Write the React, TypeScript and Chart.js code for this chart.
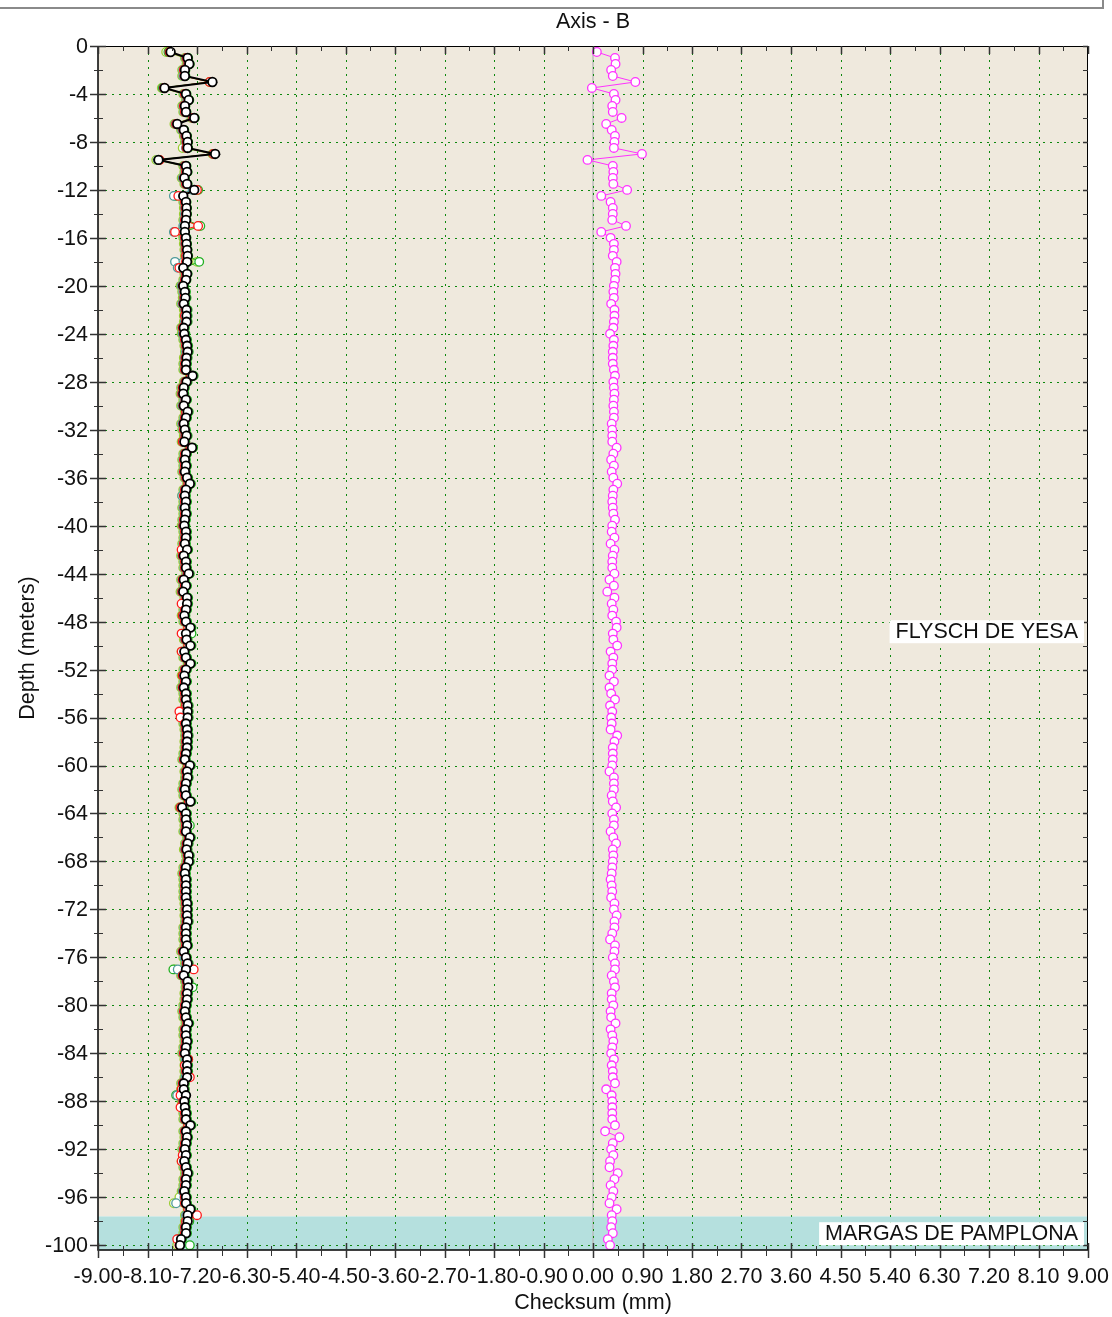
import React, { useEffect, useRef } from "react";
import { Chart, registerables } from "chart.js";

Chart.register(...registerables);

// ---------- DATA ----------
const depths = [
  -0.5, -1, -1.5, -2, -2.5, -3, -3.5, -4, -4.5, -5,
  -5.5, -6, -6.5, -7, -7.5, -8, -8.5, -9, -9.5, -10,
  -10.5, -11, -11.5, -12, -12.5, -13, -13.5, -14, -14.5, -15,
  -15.5, -16, -16.5, -17, -17.5, -18, -18.5, -19, -19.5, -20,
  -20.5, -21, -21.5, -22, -22.5, -23, -23.5, -24, -24.5, -25,
  -25.5, -26, -26.5, -27, -27.5, -28, -28.5, -29, -29.5, -30,
  -30.5, -31, -31.5, -32, -32.5, -33, -33.5, -34, -34.5, -35,
  -35.5, -36, -36.5, -37, -37.5, -38, -38.5, -39, -39.5, -40,
  -40.5, -41, -41.5, -42, -42.5, -43, -43.5, -44, -44.5, -45,
  -45.5, -46, -46.5, -47, -47.5, -48, -48.5, -49, -49.5, -50,
  -50.5, -51, -51.5, -52, -52.5, -53, -53.5, -54, -54.5, -55,
  -55.5, -56, -56.5, -57, -57.5, -58, -58.5, -59, -59.5, -60,
  -60.5, -61, -61.5, -62, -62.5, -63, -63.5, -64, -64.5, -65,
  -65.5, -66, -66.5, -67, -67.5, -68, -68.5, -69, -69.5, -70,
  -70.5, -71, -71.5, -72, -72.5, -73, -73.5, -74, -74.5, -75,
  -75.5, -76, -76.5, -77, -77.5, -78, -78.5, -79, -79.5, -80,
  -80.5, -81, -81.5, -82, -82.5, -83, -83.5, -84, -84.5, -85,
  -85.5, -86, -86.5, -87, -87.5, -88, -88.5, -89, -89.5, -90,
  -90.5, -91, -91.5, -92, -92.5, -93, -93.5, -94, -94.5, -95,
  -95.5, -96, -96.5, -97, -97.5, -98, -98.5, -99, -99.5, -100,
];

const seriesYellowGreen = [
  -7.76, -7.42, -7.39, -7.47, -7.47, -6.97, -7.84, -7.45, -7.40, -7.47,
  -7.45, -7.30, -7.61, -7.49, -7.44, -7.42, -7.46, -6.92, -7.94, -7.45,
  -7.43, -7.48, -7.43, -7.22, -7.58, -7.45, -7.44, -7.44, -7.45, -7.16,
  -7.50, -7.45, -7.44, -7.43, -7.42, -7.20, -7.50, -7.43, -7.45, -7.50,
  -7.47, -7.46, -7.49, -7.44, -7.44, -7.44, -7.49, -7.48, -7.45, -7.43,
  -7.42, -7.44, -7.45, -7.45, -7.33, -7.44, -7.49, -7.50, -7.45, -7.49,
  -7.42, -7.45, -7.49, -7.47, -7.44, -7.48, -7.34, -7.45, -7.47, -7.45,
  -7.47, -7.43, -7.38, -7.45, -7.47, -7.45, -7.47, -7.45, -7.47, -7.48,
  -7.45, -7.45, -7.47, -7.43, -7.49, -7.45, -7.45, -7.40, -7.49, -7.45,
  -7.50, -7.43, -7.43, -7.45, -7.48, -7.45, -7.37, -7.45, -7.44, -7.37,
  -7.48, -7.45, -7.37, -7.45, -7.48, -7.45, -7.49, -7.45, -7.45, -7.42,
  -7.42, -7.42, -7.45, -7.43, -7.42, -7.43, -7.43, -7.45, -7.47, -7.38,
  -7.43, -7.42, -7.45, -7.47, -7.45, -7.37, -7.52, -7.45, -7.45, -7.43,
  -7.45, -7.38, -7.42, -7.44, -7.40, -7.40, -7.45, -7.47, -7.45, -7.45,
  -7.45, -7.45, -7.43, -7.43, -7.43, -7.42, -7.45, -7.45, -7.45, -7.43,
  -7.49, -7.45, -7.42, -7.60, -7.49, -7.42, -7.41, -7.43, -7.43, -7.45,
  -7.47, -7.45, -7.41, -7.45, -7.45, -7.43, -7.45, -7.47, -7.43, -7.43,
  -7.43, -7.43, -7.49, -7.49, -7.45, -7.48, -7.47, -7.45, -7.45, -7.37,
  -7.45, -7.43, -7.45, -7.47, -7.45, -7.48, -7.45, -7.42, -7.45, -7.45,
  -7.48, -7.52, -7.62, -7.37, -7.42, -7.42, -7.45, -7.45, -7.54, -7.56,
];

const seriesGreen = [
  -7.72, -7.36, -7.33, -7.41, -7.41, -6.95, -7.82, -7.39, -7.34, -7.41,
  -7.39, -7.24, -7.57, -7.43, -7.38, -7.36, -7.36, -6.89, -7.89, -7.39,
  -7.37, -7.42, -7.37, -7.18, -7.60, -7.39, -7.38, -7.38, -7.39, -7.14,
  -7.43, -7.39, -7.38, -7.37, -7.36, -7.16, -7.44, -7.37, -7.39, -7.43,
  -7.40, -7.39, -7.42, -7.37, -7.37, -7.37, -7.42, -7.41, -7.38, -7.36,
  -7.35, -7.37, -7.38, -7.38, -7.26, -7.37, -7.42, -7.43, -7.38, -7.42,
  -7.35, -7.38, -7.42, -7.40, -7.37, -7.41, -7.27, -7.38, -7.40, -7.38,
  -7.40, -7.36, -7.31, -7.38, -7.40, -7.38, -7.40, -7.38, -7.40, -7.41,
  -7.38, -7.38, -7.40, -7.36, -7.42, -7.38, -7.38, -7.33, -7.42, -7.38,
  -7.43, -7.36, -7.36, -7.38, -7.41, -7.38, -7.30, -7.30, -7.37, -7.30,
  -7.41, -7.38, -7.30, -7.38, -7.41, -7.38, -7.42, -7.38, -7.38, -7.35,
  -7.35, -7.35, -7.38, -7.36, -7.35, -7.36, -7.36, -7.38, -7.40, -7.31,
  -7.36, -7.35, -7.38, -7.40, -7.38, -7.30, -7.44, -7.38, -7.38, -7.33,
  -7.38, -7.31, -7.35, -7.37, -7.33, -7.33, -7.38, -7.40, -7.38, -7.38,
  -7.38, -7.38, -7.36, -7.36, -7.36, -7.35, -7.38, -7.38, -7.38, -7.36,
  -7.42, -7.38, -7.35, -7.63, -7.42, -7.35, -7.28, -7.36, -7.36, -7.38,
  -7.40, -7.38, -7.34, -7.38, -7.38, -7.36, -7.38, -7.40, -7.36, -7.36,
  -7.36, -7.36, -7.42, -7.42, -7.58, -7.41, -7.40, -7.38, -7.38, -7.30,
  -7.38, -7.36, -7.38, -7.40, -7.38, -7.41, -7.38, -7.35, -7.38, -7.38,
  -7.41, -7.38, -7.38, -7.30, -7.35, -7.34, -7.38, -7.38, -7.47, -7.33,
];

const seriesTeal = [
  -7.70, -7.40, -7.37, -7.45, -7.45, -6.94, -7.81, -7.43, -7.38, -7.45,
  -7.43, -7.28, -7.59, -7.47, -7.42, -7.40, -7.40, -6.90, -7.91, -7.43,
  -7.41, -7.46, -7.41, -7.28, -7.62, -7.43, -7.42, -7.42, -7.43, -7.45,
  -7.62, -7.43, -7.42, -7.41, -7.40, -7.60, -7.55, -7.41, -7.43, -7.48,
  -7.45, -7.44, -7.47, -7.42, -7.42, -7.42, -7.47, -7.46, -7.43, -7.41,
  -7.40, -7.42, -7.43, -7.43, -7.31, -7.42, -7.47, -7.48, -7.43, -7.47,
  -7.40, -7.43, -7.47, -7.45, -7.42, -7.46, -7.32, -7.43, -7.45, -7.43,
  -7.45, -7.41, -7.36, -7.43, -7.47, -7.43, -7.45, -7.43, -7.45, -7.46,
  -7.43, -7.43, -7.45, -7.41, -7.47, -7.43, -7.43, -7.38, -7.47, -7.43,
  -7.48, -7.41, -7.41, -7.43, -7.46, -7.43, -7.35, -7.43, -7.42, -7.35,
  -7.46, -7.43, -7.35, -7.43, -7.46, -7.43, -7.47, -7.43, -7.43, -7.40,
  -7.40, -7.40, -7.43, -7.41, -7.40, -7.41, -7.41, -7.43, -7.45, -7.36,
  -7.41, -7.40, -7.43, -7.45, -7.43, -7.35, -7.50, -7.43, -7.43, -7.41,
  -7.43, -7.36, -7.40, -7.42, -7.38, -7.38, -7.43, -7.45, -7.43, -7.43,
  -7.43, -7.43, -7.41, -7.41, -7.41, -7.40, -7.43, -7.43, -7.43, -7.41,
  -7.47, -7.43, -7.40, -7.55, -7.47, -7.40, -7.39, -7.41, -7.41, -7.43,
  -7.45, -7.43, -7.39, -7.43, -7.43, -7.41, -7.43, -7.45, -7.41, -7.41,
  -7.41, -7.41, -7.47, -7.47, -7.56, -7.46, -7.45, -7.43, -7.43, -7.35,
  -7.43, -7.41, -7.43, -7.45, -7.43, -7.46, -7.43, -7.40, -7.43, -7.43,
  -7.46, -7.43, -7.58, -7.35, -7.40, -7.40, -7.43, -7.43, -7.52, -7.50,
];

const seriesRed = [
  -7.70, -7.39, -7.36, -7.44, -7.43, -6.97, -7.80, -7.42, -7.36, -7.44,
  -7.42, -7.27, -7.58, -7.45, -7.41, -7.39, -7.39, -6.90, -7.88, -7.42,
  -7.40, -7.44, -7.40, -7.20, -7.54, -7.42, -7.41, -7.40, -7.42, -7.18,
  -7.60, -7.42, -7.41, -7.40, -7.40, -7.40, -7.52, -7.40, -7.42, -7.46,
  -7.43, -7.43, -7.45, -7.41, -7.42, -7.40, -7.46, -7.44, -7.42, -7.40,
  -7.38, -7.41, -7.42, -7.42, -7.31, -7.41, -7.46, -7.47, -7.41, -7.45,
  -7.40, -7.42, -7.45, -7.44, -7.41, -7.46, -7.32, -7.42, -7.44, -7.42,
  -7.44, -7.40, -7.36, -7.42, -7.44, -7.42, -7.43, -7.42, -7.44, -7.45,
  -7.42, -7.42, -7.44, -7.48, -7.46, -7.42, -7.42, -7.37, -7.46, -7.42,
  -7.47, -7.40, -7.48, -7.42, -7.46, -7.42, -7.36, -7.48, -7.41, -7.36,
  -7.48, -7.42, -7.34, -7.42, -7.46, -7.42, -7.46, -7.42, -7.42, -7.40,
  -7.52, -7.50, -7.42, -7.40, -7.39, -7.40, -7.40, -7.42, -7.44, -7.36,
  -7.40, -7.39, -7.42, -7.44, -7.42, -7.35, -7.50, -7.42, -7.42, -7.40,
  -7.42, -7.35, -7.39, -7.41, -7.37, -7.37, -7.42, -7.44, -7.42, -7.42,
  -7.42, -7.42, -7.40, -7.40, -7.40, -7.39, -7.42, -7.42, -7.42, -7.40,
  -7.46, -7.40, -7.39, -7.26, -7.46, -7.39, -7.38, -7.40, -7.40, -7.42,
  -7.44, -7.42, -7.38, -7.42, -7.42, -7.40, -7.42, -7.44, -7.36, -7.42,
  -7.40, -7.33, -7.46, -7.48, -7.50, -7.45, -7.50, -7.42, -7.42, -7.36,
  -7.42, -7.40, -7.42, -7.44, -7.46, -7.48, -7.42, -7.39, -7.42, -7.42,
  -7.44, -7.42, -7.42, -7.36, -7.20, -7.40, -7.42, -7.42, -7.56, -7.52,
];

const seriesBlack = [
  -7.68, -7.37, -7.34, -7.42, -7.42, -6.92, -7.79, -7.40, -7.35, -7.42,
  -7.40, -7.25, -7.56, -7.44, -7.39, -7.37, -7.37, -6.87, -7.90, -7.40,
  -7.38, -7.43, -7.38, -7.25, -7.45, -7.40, -7.39, -7.39, -7.40, -7.42,
  -7.42, -7.40, -7.39, -7.38, -7.37, -7.38, -7.45, -7.38, -7.40, -7.45,
  -7.42, -7.41, -7.44, -7.39, -7.39, -7.39, -7.44, -7.43, -7.40, -7.38,
  -7.37, -7.39, -7.40, -7.40, -7.28, -7.39, -7.44, -7.45, -7.40, -7.44,
  -7.37, -7.40, -7.44, -7.42, -7.39, -7.43, -7.29, -7.40, -7.42, -7.40,
  -7.42, -7.38, -7.33, -7.40, -7.42, -7.40, -7.42, -7.40, -7.42, -7.43,
  -7.40, -7.40, -7.42, -7.38, -7.44, -7.40, -7.40, -7.35, -7.44, -7.40,
  -7.45, -7.38, -7.38, -7.40, -7.43, -7.40, -7.32, -7.40, -7.39, -7.32,
  -7.43, -7.40, -7.32, -7.40, -7.43, -7.40, -7.44, -7.40, -7.40, -7.37,
  -7.37, -7.37, -7.40, -7.38, -7.37, -7.38, -7.38, -7.40, -7.42, -7.33,
  -7.38, -7.37, -7.40, -7.42, -7.40, -7.32, -7.47, -7.40, -7.40, -7.38,
  -7.40, -7.33, -7.37, -7.39, -7.35, -7.35, -7.40, -7.42, -7.40, -7.40,
  -7.40, -7.40, -7.38, -7.38, -7.38, -7.37, -7.40, -7.40, -7.40, -7.38,
  -7.44, -7.40, -7.37, -7.40, -7.44, -7.37, -7.36, -7.38, -7.38, -7.40,
  -7.42, -7.40, -7.36, -7.40, -7.40, -7.38, -7.40, -7.42, -7.38, -7.38,
  -7.38, -7.38, -7.44, -7.44, -7.40, -7.43, -7.42, -7.40, -7.40, -7.32,
  -7.40, -7.38, -7.40, -7.42, -7.40, -7.43, -7.40, -7.37, -7.40, -7.40,
  -7.43, -7.40, -7.40, -7.32, -7.37, -7.37, -7.40, -7.40, -7.49, -7.51,
];

const seriesChecksum = [
  0.07, 0.40, 0.41, 0.33, 0.36, 0.77, -0.02, 0.38, 0.41, 0.35,
  0.36, 0.52, 0.24, 0.34, 0.40, 0.39, 0.38, 0.89, -0.10, 0.36,
  0.37, 0.36, 0.37, 0.62, 0.15, 0.32, 0.36, 0.36, 0.35, 0.60,
  0.15, 0.32, 0.38, 0.38, 0.36, 0.43, 0.40, 0.41, 0.40, 0.38,
  0.37, 0.38, 0.33, 0.39, 0.39, 0.38, 0.37, 0.31, 0.38, 0.37,
  0.36, 0.36, 0.36, 0.38, 0.40, 0.37, 0.38, 0.39, 0.38, 0.37,
  0.38, 0.38, 0.34, 0.35, 0.35, 0.35, 0.43, 0.37, 0.33, 0.38,
  0.34, 0.37, 0.44, 0.37, 0.36, 0.35, 0.36, 0.37, 0.40, 0.35,
  0.34, 0.39, 0.32, 0.39, 0.36, 0.35, 0.35, 0.39, 0.30, 0.38,
  0.26, 0.39, 0.34, 0.37, 0.35, 0.42, 0.43, 0.36, 0.37, 0.44,
  0.32, 0.37, 0.35, 0.35, 0.30, 0.38, 0.30, 0.33, 0.40, 0.31,
  0.35, 0.33, 0.34, 0.32, 0.44, 0.39, 0.36, 0.36, 0.36, 0.35,
  0.30, 0.38, 0.38, 0.38, 0.34, 0.36, 0.42, 0.35, 0.38, 0.38,
  0.32, 0.37, 0.42, 0.36, 0.37, 0.36, 0.35, 0.34, 0.32, 0.34,
  0.35, 0.33, 0.39, 0.38, 0.43, 0.39, 0.39, 0.35, 0.31, 0.40,
  0.39, 0.36, 0.40, 0.40, 0.34, 0.38, 0.40, 0.34, 0.34, 0.37,
  0.32, 0.33, 0.41, 0.32, 0.35, 0.37, 0.35, 0.33, 0.38, 0.34,
  0.36, 0.36, 0.40, 0.24, 0.34, 0.35, 0.35, 0.35, 0.35, 0.40,
  0.22, 0.48, 0.36, 0.33, 0.37, 0.31, 0.30, 0.45, 0.39, 0.32,
  0.37, 0.34, 0.30, 0.43, 0.34, 0.35, 0.33, 0.36, 0.27, 0.31,
];

const xTickLabels = [
  "-9.00", "-8.10", "-7.20", "-6.30", "-5.40", "-4.50", "-3.60", "-2.70", "-1.80", "-0.90",
  "0.00", "0.90", "1.80", "2.70", "3.60", "4.50", "5.40", "6.30", "7.20", "8.10", "9.00",
];
const yTickValues = [0, -4, -8, -12, -16, -20, -24, -28, -32, -36, -40, -44, -48, -52, -56, -60, -64, -68, -72, -76, -80, -84, -88, -92, -96, -100];

const layerNames = ["FLYSCH DE YESA", "MARGAS DE PAMPLONA"];
const layerTops = [0, -97.6];
const layerBottoms = [-97.6, -100.4];
const layerColors = ["#efe9dd", "#b5e0de"];

const X_MIN = -9;
const X_MAX = 9;
const Y_MIN = -100.4;
const Y_MAX = 0;

const FONT = "'Liberation Sans', Arial, Helvetica, sans-serif";
const FONT_SIZE = 21.5;

function toPoints(values: number[]) {
  return values.map((v, i) => ({ x: v, y: depths[i] }));
}

const customDraw = {
  id: "customDraw",
  beforeDraw(chart: any) {
    const { ctx, chartArea, scales } = chart;
    const { left, right, top, bottom } = chartArea;
    const x = scales.x;
    const y = scales.y;
    ctx.save();
    ctx.fillStyle = "#ffffff";
    ctx.fillRect(0, 0, chart.width, chart.height);

    // frame line at the top of the page
    ctx.strokeStyle = "#8a8a8a";
    ctx.lineWidth = 2;
    ctx.beginPath();
    ctx.moveTo(0, 8);
    ctx.lineTo(1103, 8);
    ctx.lineTo(1103, 0);
    ctx.stroke();

    // layer bands
    for (let i = 0; i < layerNames.length; i++) {
      const y1 = y.getPixelForValue(layerTops[i]);
      const y2 = y.getPixelForValue(layerBottoms[i]);
      ctx.fillStyle = layerColors[i];
      ctx.fillRect(left, y1, right - left, y2 - y1);
    }

    // zero line
    const x0 = Math.round(x.getPixelForValue(0));
    ctx.strokeStyle = "rgba(185,185,185,0.7)";
    ctx.lineWidth = 2;
    ctx.beginPath();
    ctx.moveTo(x0, top);
    ctx.lineTo(x0, bottom);
    ctx.stroke();

    // grid lines
    ctx.strokeStyle = "#0c870c";
    ctx.lineWidth = 1;
    ctx.setLineDash([2, 5]);
    for (let i = 1; i < xTickLabels.length - 1; i++) {
      const px = Math.round(x.getPixelForValue(parseFloat(xTickLabels[i]))) + 0.5;
      ctx.beginPath();
      ctx.moveTo(px, top);
      ctx.lineTo(px, bottom);
      ctx.stroke();
    }
    for (let i = 1; i < yTickValues.length; i++) {
      const py = Math.round(y.getPixelForValue(yTickValues[i])) + 0.5;
      ctx.beginPath();
      ctx.moveTo(left, py);
      ctx.lineTo(right, py);
      ctx.stroke();
    }
    ctx.setLineDash([]);
    ctx.restore();
  },
  afterDraw(chart: any) {
    const { ctx, chartArea, scales } = chart;
    const { left, right, top, bottom } = chartArea;
    const x = scales.x;
    const y = scales.y;
    ctx.save();

    // axis borders
    ctx.strokeStyle = "#000";
    ctx.lineWidth = 1.5;
    ctx.beginPath();
    ctx.moveTo(left, top);
    ctx.lineTo(left, bottom);
    ctx.lineTo(right, bottom);
    ctx.stroke();
    ctx.lineWidth = 1;
    ctx.beginPath();
    ctx.moveTo(left, top + 0.5);
    ctx.lineTo(right, top + 0.5);
    ctx.moveTo(right - 0.5, top);
    ctx.lineTo(right - 0.5, bottom);
    ctx.stroke();

    // x ticks (major + minor), bottom crossing, top inward
    const xMajor = xTickLabels.map((t) => parseFloat(t));
    ctx.strokeStyle = "#333";
    for (let i = 0; i < xMajor.length; i++) {
      const px = Math.round(x.getPixelForValue(xMajor[i])) + 0.5;
      ctx.lineWidth = 1.5;
      ctx.beginPath();
      ctx.moveTo(px, bottom - 7);
      ctx.lineTo(px, bottom + 8);
      ctx.moveTo(px, top);
      ctx.lineTo(px, top + 8);
      ctx.stroke();
      if (i < xMajor.length - 1) {
        const pm = Math.round(x.getPixelForValue((xMajor[i] + xMajor[i + 1]) / 2)) + 0.5;
        ctx.lineWidth = 1;
        ctx.beginPath();
        ctx.moveTo(pm, bottom - 4);
        ctx.lineTo(pm, bottom + 6);
        ctx.moveTo(pm, top);
        ctx.lineTo(pm, top + 5);
        ctx.stroke();
      }
    }
    // y ticks: left crossing, right inward
    for (let i = 0; i < yTickValues.length; i++) {
      const py = Math.round(y.getPixelForValue(yTickValues[i])) + 0.5;
      ctx.lineWidth = 1.5;
      ctx.beginPath();
      ctx.moveTo(left - 8, py);
      ctx.lineTo(left + 8, py);
      ctx.moveTo(right - 5, py);
      ctx.lineTo(right, py);
      ctx.stroke();
      if (i < yTickValues.length - 1) {
        const pm = Math.round(y.getPixelForValue((yTickValues[i] + yTickValues[i + 1]) / 2)) + 0.5;
        ctx.lineWidth = 1;
        ctx.beginPath();
        ctx.moveTo(left - 4, pm);
        ctx.lineTo(left + 5, pm);
        ctx.moveTo(right - 5, pm);
        ctx.lineTo(right, pm);
        ctx.stroke();
      }
    }

    // tick labels
    ctx.fillStyle = "#111";
    ctx.font = `${FONT_SIZE}px ${FONT}`;
    ctx.textAlign = "center";
    ctx.textBaseline = "alphabetic";
    for (let i = 0; i < xTickLabels.length; i++) {
      const px = x.getPixelForValue(parseFloat(xTickLabels[i]));
      ctx.fillText(xTickLabels[i], px, 1283);
    }
    ctx.textAlign = "right";
    ctx.textBaseline = "middle";
    for (let i = 0; i < yTickValues.length; i++) {
      const py = y.getPixelForValue(yTickValues[i]);
      ctx.fillText(String(yTickValues[i]), left - 10, py + 1);
    }

    // axis titles
    ctx.textAlign = "center";
    ctx.textBaseline = "alphabetic";
    ctx.fillText("Checksum (mm)", (left + right) / 2, 1309);
    ctx.save();
    ctx.translate(34, (top + bottom) / 2);
    ctx.rotate(-Math.PI / 2);
    ctx.fillText("Depth (meters)", 0, 0);
    ctx.restore();

    // title with white box
    const title = "Axis - B";
    const tw = ctx.measureText(title).width;
    const cx = (left + right) / 2;
    ctx.fillStyle = "#fff";
    ctx.fillRect(cx - tw / 2 - 2, 9, tw + 4, 25);
    ctx.fillStyle = "#111";
    ctx.fillText(title, cx, 28);

    // layer labels
    ctx.textAlign = "right";
    ctx.textBaseline = "middle";
    for (let i = 0; i < layerNames.length; i++) {
      const mid = (layerTops[i] + layerBottoms[i]) / 2;
      const py = y.getPixelForValue(mid);
      const w = ctx.measureText(layerNames[i]).width;
      const rx = right - 4;
      ctx.fillStyle = "#fff";
      ctx.fillRect(rx - w - 12, py - 11, w + 12, 23);
      ctx.fillStyle = "#111";
      ctx.fillText(layerNames[i], rx - 6, py + 1);
    }
    ctx.restore();
  },
};

function ringDataset(label: string, values: number[], color: string, lineWidth: number, order: number) {
  return {
    label,
    data: toPoints(values),
    showLine: true,
    borderColor: color,
    borderWidth: lineWidth,
    pointBackgroundColor: "#ffffff",
    pointBorderColor: color,
    pointBorderWidth: 1.3,
    pointRadius: 4.3,
    order,
    tension: 0,
  };
}

export default function App() {
  const canvasRef = useRef<HTMLCanvasElement | null>(null);

  useEffect(() => {
    document.body.style.margin = "0";
    const canvas = canvasRef.current;
    if (!canvas) return;
    const chart = new Chart(canvas, {
      type: "scatter",
      data: {
        datasets: [
          ringDataset("A0 yellow-green", seriesYellowGreen, "#9acd32", 1, 7),
          ringDataset("A0 green", seriesGreen, "#22b022", 1, 6),
          ringDataset("A0 teal", seriesTeal, "#4f9a9a", 1, 5),
          ringDataset("A0 red", seriesRed, "#ff1a1a", 1, 4),
          { ...ringDataset("A0 black", seriesBlack, "#000000", 2, 3), pointBorderWidth: 1.8 },
          ringDataset("Checksum", seriesChecksum, "#ff33ff", 1, 2),
        ],
      },
      options: {
        animation: false,
        responsive: false,
        devicePixelRatio: 1,
        layout: { padding: { left: 98, top: 46, right: 24, bottom: 67 } },
        scales: {
          x: { type: "linear", min: X_MIN, max: X_MAX, display: false },
          y: { type: "linear", min: Y_MIN, max: Y_MAX, display: false },
        },
        plugins: {
          legend: { display: false },
          tooltip: { enabled: false },
          title: { display: false },
        },
      },
      plugins: [customDraw],
    });
    return () => chart.destroy();
  }, []);

  return (
    <div style={{ width: 1112, height: 1317, position: "relative" }}>
      <canvas ref={canvasRef} width={1112} height={1317} style={{ width: 1112, height: 1317, display: "block" }} />
    </div>
  );
}
